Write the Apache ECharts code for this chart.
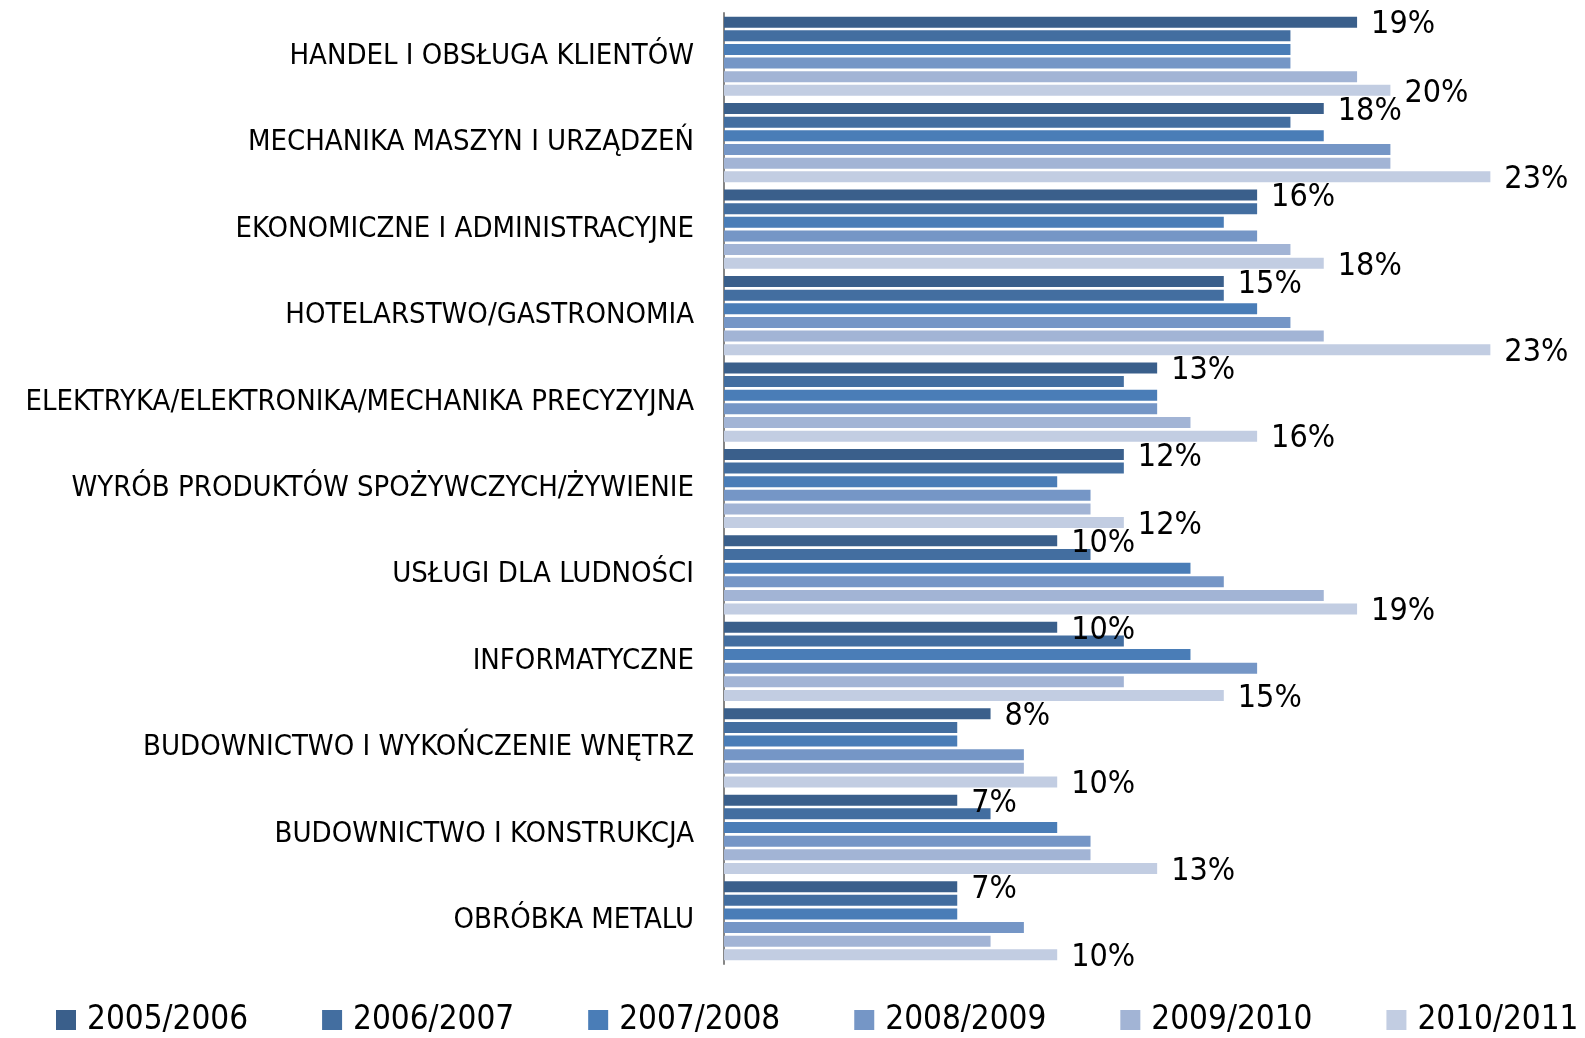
<!DOCTYPE html>
<html>
<head>
<meta charset="utf-8">
<script src="https://cdn.jsdelivr.net/npm/echarts@6/dist/echarts.min.js"></script>
<style>
  html, body { margin: 0; padding: 0; background: #fff; }
  #chart { width: 1585px; height: 1038px; }
</style>
</head>
<body>
<div id="chart"></div>
<script>
// categories, top to bottom
const categories = [
  'HANDEL I OBSŁUGA KLIENTÓW',
  'MECHANIKA MASZYN I URZĄDZEŃ',
  'EKONOMICZNE I ADMINISTRACYJNE',
  'HOTELARSTWO/GASTRONOMIA',
  'ELEKTRYKA/ELEKTRONIKA/MECHANIKA PRECYZYJNA',
  'WYRÓB PRODUKTÓW SPOŻYWCZYCH/ŻYWIENIE',
  'USŁUGI DLA LUDNOŚCI',
  'INFORMATYCZNE',
  'BUDOWNICTWO I WYKOŃCZENIE WNĘTRZ',
  'BUDOWNICTWO I KONSTRUKCJA',
  'OBRÓBKA METALU'
];

const years = ['2005/2006', '2006/2007', '2007/2008', '2008/2009', '2009/2010', '2010/2011'];

const y0506 = [19, 18, 16, 15, 13, 12, 10, 10, 8, 7, 7];
const y0607 = [17, 17, 16, 15, 12, 12, 11, 12, 7, 8, 7];
const y0708 = [17, 18, 15, 16, 13, 10, 14, 14, 7, 10, 7];
const y0809 = [17, 20, 16, 17, 13, 11, 15, 16, 9, 11, 9];
const y0910 = [19, 20, 17, 18, 14, 11, 18, 12, 9, 11, 8];
const y1011 = [20, 23, 18, 23, 16, 12, 19, 15, 10, 13, 10];

const seriesValues = [y0506, y0607, y0708, y0809, y0910, y1011];
const colors = ['#3A5F8B', '#436EA0', '#4A7DB7', '#7596C6', '#A2B4D5', '#C2CDE2'];

const FONT = "'DejaVu Sans Condensed', 'Liberation Sans Narrow', sans-serif";

const chart = echarts.init(document.getElementById('chart'));

// only first and last year carry value labels
const series = seriesValues.map((vals, i) => ({
  name: years[i],
  type: 'bar',
  data: vals,
  barWidth: 11,
  barGap: '24%',
  itemStyle: { color: colors[i] },
  label: {
    show: i === 0 || i === seriesValues.length - 1,
    position: 'right',
    distance: 14,
    offset: [0, 3],
    formatter: '{c}%',
    color: '#000',
    fontSize: 32,
    fontFamily: FONT
  },
  emphasis: { disabled: true }
}));

chart.setOption({
  animation: false,
  color: colors,
  textStyle: { fontFamily: FONT },
  grid: { left: 724, top: 13, width: 833, height: 951, containLabel: false },
  xAxis: {
    type: 'value',
    min: 0,
    max: 25,
    show: false
  },
  yAxis: {
    type: 'category',
    data: categories,
    inverse: true,
    axisLine: { show: true, lineStyle: { color: '#868686', width: 2 } },
    axisTick: { show: false },
    axisLabel: {
      margin: 30,
      fontSize: 29,
      color: '#000',
      fontFamily: FONT,
      padding: [4, 0, 0, 0]
    }
  },
  legend: {
    data: years,
    left: 56,
    top: 1002,
    padding: 0,
    itemWidth: 20,
    itemHeight: 20,
    itemGap: 74,
    icon: 'rect',
    textStyle: {
      fontSize: 33,
      lineHeight: 36,
      color: '#000',
      fontFamily: FONT,
      padding: [0, 0, 0, 6]
    }
  },
  series: series
});
</script>
</body>
</html>
